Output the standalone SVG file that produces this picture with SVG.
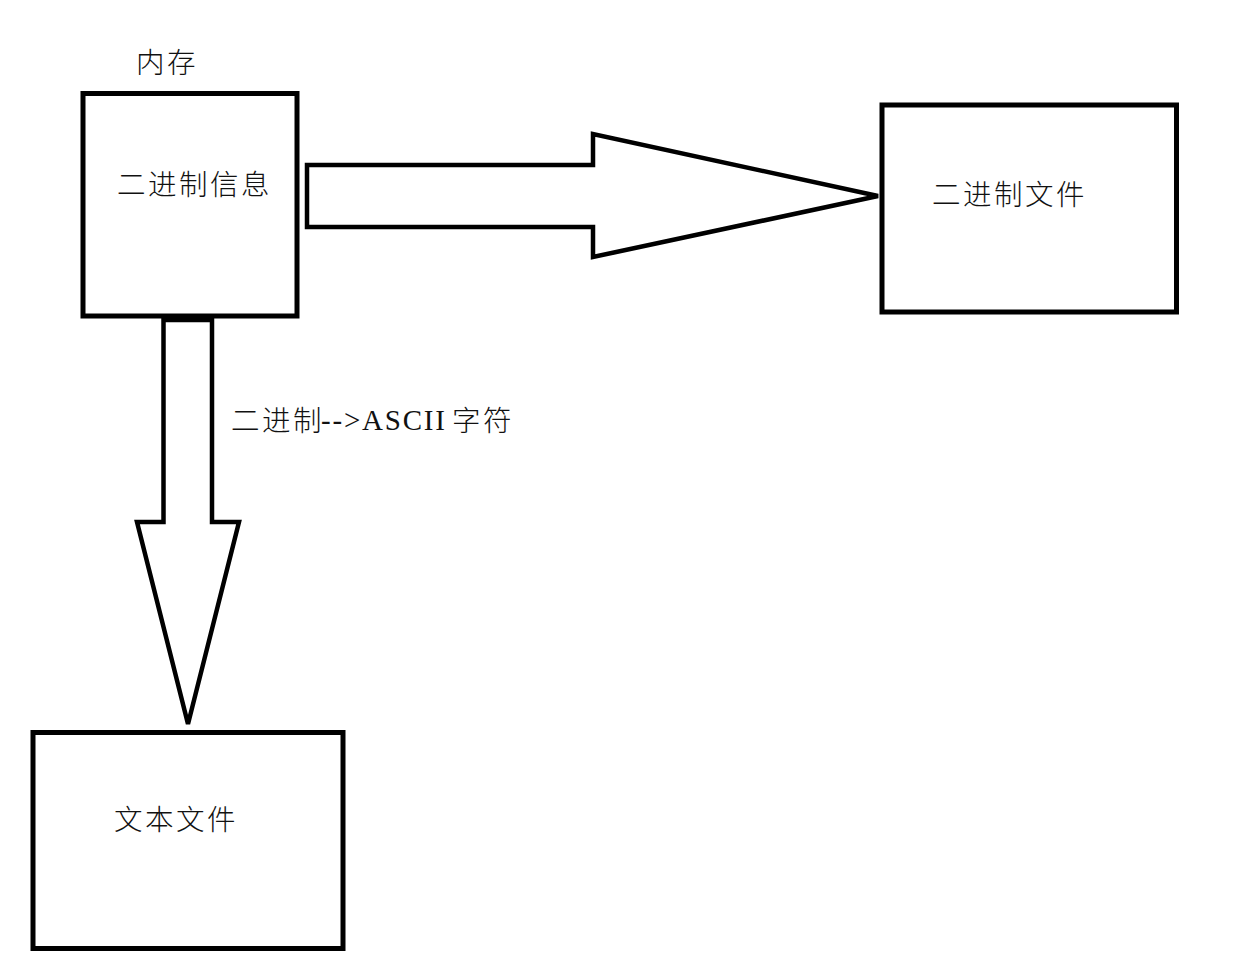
<svg xmlns="http://www.w3.org/2000/svg" width="1252" height="980" viewBox="0 0 1252 980">
<style>
.box{fill:#fff;stroke:#000;stroke-width:5}
.arr{fill:#fff;stroke:#000;stroke-width:4.5;stroke-linejoin:miter}
.cjk{font-family:"Noto Sans CJK SC","Noto Sans",sans-serif;font-size:28.5px;font-weight:300;fill:#111;letter-spacing:2.5px}
.lat{font-family:"Liberation Serif","Times New Roman",serif;font-size:29px;fill:#111}
</style>
<rect width="1252" height="980" fill="#fff"/>
<g id="connectors">
<polygon class="arr" points="307,165 593,165 593,134 878,196 593,257 593,227 307,227"/>
<polygon class="arr" points="163.5,320 212,320 212,522 239,522 188,724 137,522 163.5,522"/>
</g>
<g id="node-memory">
<rect class="box" x="83" y="93.5" width="214" height="222.5"/>
<text class="cjk" x="136" y="73">内存</text>
<text class="cjk" x="117" y="195">二进制信息</text>
</g>
<g id="node-binary-file">
<rect class="box" x="882" y="105" width="294.5" height="207"/>
<text class="cjk" x="932" y="205">二进制文件</text>
</g>
<g id="node-text-file">
<rect class="box" x="33" y="732.5" width="310" height="216"/>
<text class="cjk" x="114" y="830">文本文件</text>
</g>
<g id="label-convert">
<text class="cjk" x="231" y="431">二进制</text>
<text class="lat" x="321" y="430" textLength="124" lengthAdjust="spacing">--&gt;ASCII</text>
<text class="cjk" x="452" y="431">字符</text>
</g>
</svg>
